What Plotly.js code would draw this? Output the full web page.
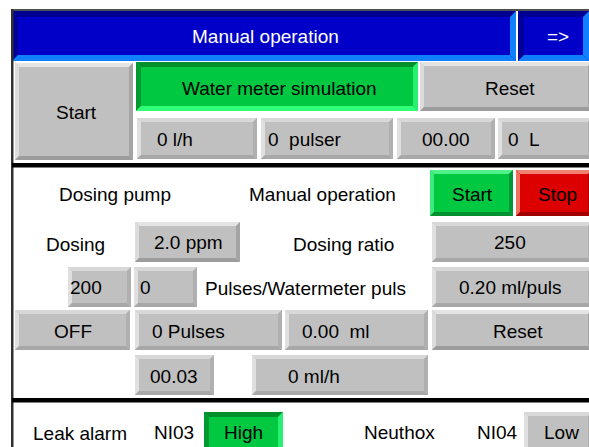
<!DOCTYPE html>
<html>
<head>
<meta charset="utf-8">
<script src="https://cdn.plot.ly/plotly-3.0.1.min.js"></script>
<style>
html,body{margin:0;padding:0;background:#fff;overflow:hidden;}
#chart{width:589px;height:447px;}
</style>
</head>
<body>
<div id="chart"></div>
<script>
// ---------- data (texts / values shown on the panel) ----------
const headerTitle = "Manual operation";
const navLabel = "=>";
const simButtons = ["Start", "Water meter simulation", "Reset"];
const meterValues = ["0 l/h", "0  pulser", "00.00", "0  L"];
const pumpLabels = ["Dosing pump", "Manual operation"];
const pumpButtons = ["Start", "Stop"];
const dosingLabels = ["Dosing", "Dosing ratio", "Pulses/Watermeter puls"];
const dosingValues = ["2.0 ppm", "250", "200", "0", "0.20 ml/puls"];
const counterValues = ["OFF", "0 Pulses", "0.00  ml", "00.03", "0 ml/h"];
const resetLabel = "Reset";
const alarmLabels = ["Leak alarm", "Neuthox"];
const alarmInputs = ["NI03", "NI04"];
const alarmStates = ["High", "Low"];

// ---------- styles ----------
const STYLES = {
  blueIn:  {fill:"#0000c8", t:"#000090", l:"#000098", b:"#1080ff", r:"#1080ff", w:6},
  grayBtn: {fill:"#c0c0c0", t:"#e4e4e4", l:"#dcdcdc", b:"#9c9c9c", r:"#a4a4a4", w:4},
  disp:    {fill:"#c0c0c0", t:"#d8d8d8", l:"#e0e0e0", b:"#a8a8a8", r:"#b0b0b0", w:4},
  greenIn: {fill:"#00c840", t:"#00902c", l:"#009830", b:"#30ff78", r:"#28f070", w:5},
  greenBtn:{fill:"#00c840", t:"#50f08a", l:"#40e880", b:"#009030", r:"#009838", w:4},
  redBtn:  {fill:"#dd0000", t:"#f08070", l:"#f07060", b:"#a00000", r:"#a80000", w:4}
};

// ---------- layout of widgets (positions separate from data) ----------
const boxes = [
  {x0:12, x1:516, y0:11, y1:61, s:"blueIn"},
  {x0:518, x1:589, y0:11, y1:61, s:"blueIn"},
  {x0:15, x1:133, y0:63, y1:160, s:"grayBtn"},
  {x0:136, x1:418, y0:62, y1:111, s:"greenIn"},
  {x0:420, x1:592, y0:62, y1:111, s:"grayBtn"},
  {x0:137, x1:257, y0:118, y1:159, s:"disp"},
  {x0:261, x1:393, y0:118, y1:159, s:"disp"},
  {x0:397, x1:495, y0:118, y1:159, s:"disp"},
  {x0:498, x1:592, y0:118, y1:159, s:"disp"},
  {x0:430, x1:513, y0:170, y1:216, s:"greenBtn"},
  {x0:516, x1:592, y0:170, y1:216, s:"redBtn"},
  {x0:135, x1:240, y0:222, y1:262, s:"grayBtn"},
  {x0:432, x1:592, y0:222, y1:262, s:"disp"},
  {x0:68, x1:131, y0:267, y1:307, s:"disp"},
  {x0:134, x1:197, y0:267, y1:307, s:"disp"},
  {x0:432, x1:592, y0:267, y1:307, s:"disp"},
  {x0:15, x1:130, y0:310, y1:350, s:"disp"},
  {x0:135, x1:282, y0:310, y1:350, s:"disp"},
  {x0:285, x1:428, y0:310, y1:350, s:"disp"},
  {x0:432, x1:592, y0:310, y1:350, s:"grayBtn"},
  {x0:135, x1:214, y0:355, y1:395, s:"disp"},
  {x0:252, x1:428, y0:355, y1:395, s:"disp"},
  {x0:204, x1:283, y0:412, y1:452, s:"greenIn"},
  {x0:524, x1:592, y0:412, y1:452, s:"disp"}
];

const texts = [
  {t:headerTitle, x:265, y:36, a:"center", c:"#ffffff"},
  {t:navLabel, x:558, y:36, a:"center", c:"#ffffff"},
  {t:simButtons[0], x:76, y:112, a:"center"},
  {t:simButtons[1], x:279, y:88, a:"center"},
  {t:simButtons[2], x:510, y:88, a:"center"},
  {t:meterValues[0], x:156, y:139, a:"left"},
  {t:meterValues[1], x:267, y:139, a:"left"},
  {t:meterValues[2], x:446, y:139, a:"center"},
  {t:meterValues[3], x:507, y:139, a:"left"},
  {t:pumpLabels[0], x:115, y:194, a:"center"},
  {t:pumpLabels[1], x:322, y:194, a:"center"},
  {t:pumpButtons[0], x:472, y:194, a:"center"},
  {t:pumpButtons[1], x:557, y:194, a:"center"},
  {t:dosingLabels[0], x:75, y:244, a:"center"},
  {t:dosingValues[0], x:188, y:242, a:"center"},
  {t:dosingLabels[1], x:343, y:244, a:"center"},
  {t:dosingValues[1], x:510, y:242, a:"center"},
  {t:dosingValues[2], x:69, y:287, a:"left"},
  {t:dosingValues[3], x:139, y:287, a:"left"},
  {t:dosingLabels[2], x:204, y:288, a:"left"},
  {t:dosingValues[4], x:510, y:287, a:"center"},
  {t:counterValues[0], x:73, y:331, a:"center"},
  {t:counterValues[1], x:151, y:331, a:"left"},
  {t:counterValues[2], x:301, y:331, a:"left"},
  {t:resetLabel, x:518, y:331, a:"center"},
  {t:counterValues[3], x:174, y:376, a:"center"},
  {t:counterValues[4], x:287, y:376, a:"left"},
  {t:alarmLabels[0], x:80, y:433, a:"center"},
  {t:alarmInputs[0], x:174, y:432, a:"center"},
  {t:alarmStates[0], x:243, y:432, a:"center"},
  {t:alarmLabels[1], x:399, y:432, a:"center"},
  {t:alarmInputs[1], x:497, y:432, a:"center"},
  {t:alarmStates[1], x:561, y:432, a:"center"}
];

// ---------- build shapes ----------
const shapes = [];
function poly(pts, color){
  const d = "M" + pts.map(p => p[0] + "," + p[1]).join(" L") + " Z";
  shapes.push({type:"path", xref:"x", yref:"y", path:d, fillcolor:color, line:{width:0}, layer:"above"});
}
function rect(x0,y0,x1,y1,color){
  shapes.push({type:"rect", xref:"x", yref:"y", x0:x0, y0:y0, x1:x1, y1:y1, fillcolor:color, line:{width:0}, layer:"above"});
}
boxes.forEach(bx => {
  const st = STYLES[bx.s], w = st.w;
  const {x0,x1,y0,y1} = bx;
  rect(x0,y0,x1,y1,st.fill);
  poly([[x0,y0],[x1,y0],[x1-w,y0+w],[x0+w,y0+w]], st.t);
  poly([[x0,y0],[x0+w,y0+w],[x0+w,y1-w],[x0,y1]], st.l);
  poly([[x0,y1],[x0+w,y1-w],[x1-w,y1-w],[x1,y1]], st.b);
  poly([[x1,y0],[x1,y1],[x1-w,y1-w],[x1-w,y0+w]], st.r);
});
// frame lines and separators
rect(12,9,592,11,"#505050");
rect(11,9,13.5,452,"#303030");
rect(12,163,592,167.5,"#000000");
rect(12,398,592,402.5,"#000000");

const annotations = texts.map(o => ({
  text:o.t, x:o.x, y:o.y, xref:"x", yref:"y", showarrow:false,
  xanchor:o.a, yanchor:"middle", borderpad:0,
  font:{family:"Liberation Sans, Arial, sans-serif", size:19, color:o.c || "#000000"}
}));

const layout = {
  width:589, height:447,
  margin:{l:0,r:0,t:0,b:0,pad:0},
  paper_bgcolor:"#ffffff", plot_bgcolor:"#ffffff",
  xaxis:{range:[0,589], visible:false, fixedrange:true},
  yaxis:{range:[447,0], visible:false, fixedrange:true},
  showlegend:false,
  shapes:shapes,
  annotations:annotations
};

Plotly.newPlot("chart", [], layout, {staticPlot:true, displayModeBar:false});
</script>
</body>
</html>
